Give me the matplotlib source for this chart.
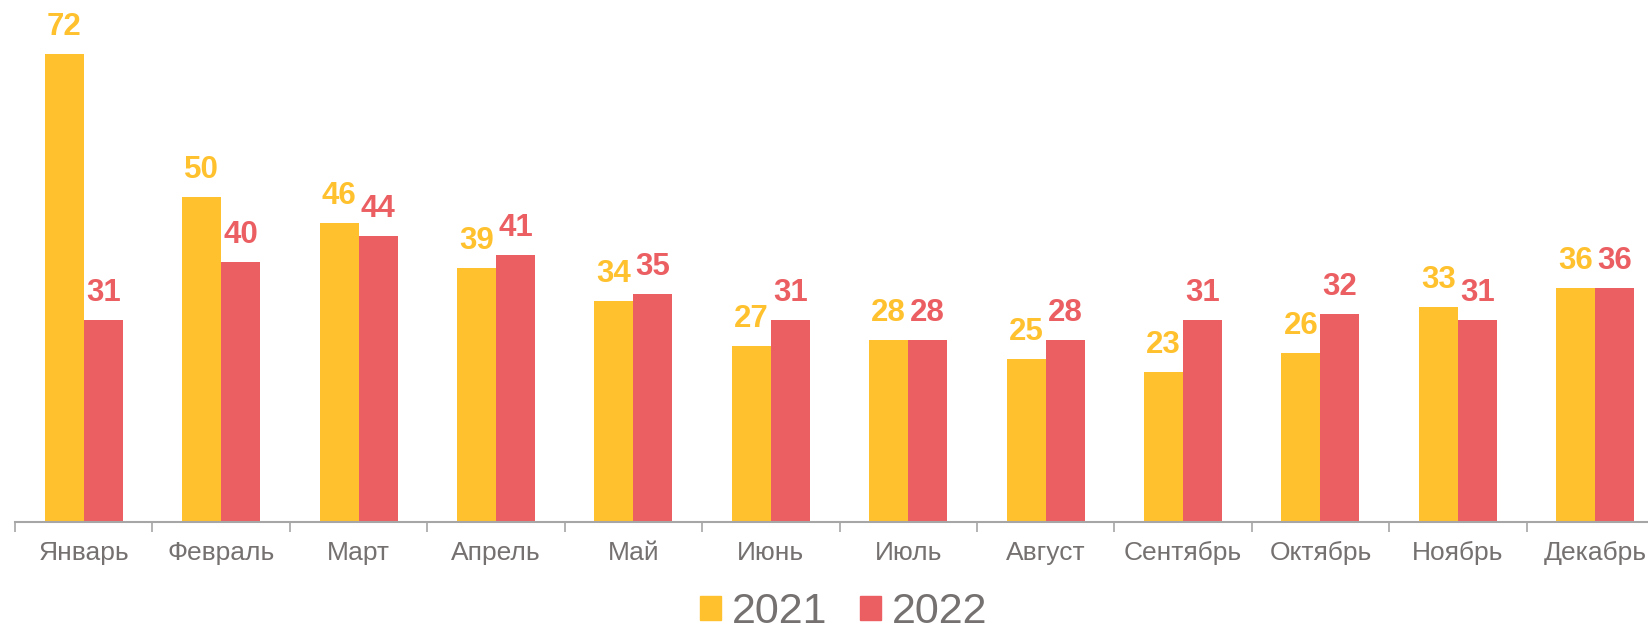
import matplotlib
matplotlib.use("Agg")
import matplotlib.pyplot as plt
import numpy as np
from matplotlib.patches import Patch

# ---------------------------------------------------------------------
# Dados
# ---------------------------------------------------------------------

meses = ["Январь", "Февраль", "Март", "Апрель", "Май", "Июнь",
         "Июль", "Август", "Сентябрь", "Октябрь", "Ноябрь", "Декабрь"]
valores_2021 = [72, 50, 46, 39, 34, 27, 28, 25, 23, 26, 33, 36]
valores_2022 = [31, 40, 44, 41, 35, 31, 28, 28, 31, 32, 31, 36]
anos = ["2021", "2022"]

COR_2021 = "#FFC12E"
COR_2022 = "#EB5E62"
COR_TEXTO = "#767171"
COR_EIXO = "#A6A6A6"

plt.rcParams["font.family"] = ["Liberation Sans", "DejaVu Sans"]

fig = plt.figure(figsize=(16.48, 6.35), dpi=100)
ax = fig.add_axes([15 / 1648, 113 / 635, 1649 / 1648, 522 / 635])

x = np.arange(len(meses))
largura = 0.284

barras1 = ax.bar(x - largura / 2, valores_2021, largura, color=COR_2021)
barras2 = ax.bar(x + largura / 2, valores_2022, largura, color=COR_2022)

for barras, cor in [(barras1, COR_2021), (barras2, COR_2022)]:
    for b in barras:
        ax.annotate(
            f"{int(b.get_height())}",
            (b.get_x() + b.get_width() / 2, b.get_height()),
            xytext=(0, 14), textcoords="offset points",
            ha="center", va="baseline",
            fontsize=22.5, fontweight="bold", color=cor,
        )

ax.set_xlim(-0.5, len(meses) - 0.5)
ax.set_ylim(0, 80.3)

for lado in ["top", "right", "left"]:
    ax.spines[lado].set_visible(False)
ax.spines["bottom"].set_color(COR_EIXO)
ax.spines["bottom"].set_linewidth(1.5)
ax.set_yticks([])

# Rótulos centrados nas categorias, marcas nas fronteiras
ax.set_xticks(x)
ax.set_xticklabels(meses, fontsize=19, color=COR_TEXTO)
ax.tick_params(axis="x", which="major", length=0, pad=14)
ax.set_xticks(np.arange(-0.5, len(meses), 1.0), minor=True)
ax.tick_params(axis="x", which="minor", length=7, width=1.2, color=COR_EIXO)

handles = [Patch(color=COR_2021), Patch(color=COR_2022)]
fig.legend(
    handles, anos, loc="center", bbox_to_anchor=(0.512, 0.036),
    ncol=2, frameon=False, fontsize=31, labelcolor=COR_TEXTO,
    handlelength=0.5, handleheight=0.5, handletextpad=0.25,
    columnspacing=0.75, borderpad=0,
)

fig.savefig("out.png", dpi=100)
plt.close(fig)
